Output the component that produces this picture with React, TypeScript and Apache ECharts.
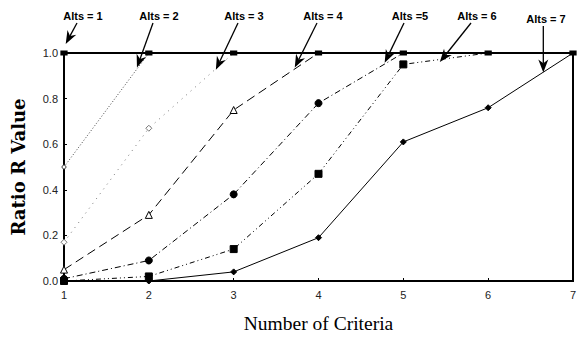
import React, { useEffect, useRef } from "react";
import * as echarts from "echarts";

const criteria = [1, 2, 3, 4, 5, 6, 7];
const yTicks = [0, 0.2, 0.4, 0.6, 0.8, 1.0];

const alts1: number[][] = [[1, 1.0]];
const alts2: number[][] = [[1, 0.5], [2, 1.0]];
const alts3: number[][] = [[1, 0.17], [2, 0.67], [3, 1.0]];
const alts4: number[][] = [[1, 0.05], [2, 0.29], [3, 0.75], [4, 1.0]];
const alts5: number[][] = [[1, 0.01], [2, 0.09], [3, 0.38], [4, 0.78], [5, 1.0]];
const alts6: number[][] = [[1, 0.0], [2, 0.02], [3, 0.14], [4, 0.47], [5, 0.95], [6, 1.0]];
const alts7: number[][] = [[1, 0.0], [2, 0.0], [3, 0.04], [4, 0.19], [5, 0.61], [6, 0.76], [7, 1.0]];

// annotation labels: text, label pixel center, arrow tip in data coords
const annLabels = ["Alts = 1", "Alts = 2", "Alts = 3", "Alts = 4", "Alts =5", "Alts = 6", "Alts = 7"];
const annLabelPos = [[83, 16], [159, 16], [244, 16], [323, 16], [410, 16], [477, 16], [546, 19]];
const annTips = [[1.02, 1.04], [1.86, 0.936], [2.79, 0.927], [3.72, 0.936], [4.78, 0.957], [5.43, 0.96], [6.65, 0.915]];

function arrowGraphics(chart: any) {
  const els: any[] = [];
  annLabels.forEach((t, i) => {
    const [lx, ly] = annLabelPos[i];
    els.push({
      type: "text",
      x: lx,
      y: ly,
      style: {
        text: t,
        font: "bold 11px 'Liberation Sans', Arial, sans-serif",
        fill: "#000",
        textAlign: "center",
        textVerticalAlign: "middle",
      },
      z: 10,
    });
    const tip = chart.convertToPixel({ gridIndex: 0 }, annTips[i]);
    const sx = i === 6 ? tip[0] : lx - 6;
    const sy = ly + 7;
    const dx = tip[0] - sx;
    const dy = tip[1] - sy;
    const len = Math.sqrt(dx * dx + dy * dy);
    const ux = dx / len;
    const uy = dy / len;
    const px = -uy;
    const py = ux;
    const hl = 13;
    const hw = 5;
    const bx = tip[0] - ux * hl;
    const by = tip[1] - uy * hl;
    const nx = tip[0] - ux * hl * 0.7;
    const ny = tip[1] - uy * hl * 0.7;
    els.push({
      type: "line",
      shape: { x1: sx, y1: sy, x2: nx, y2: ny },
      style: { stroke: "#000", lineWidth: 1.3 },
      z: 10,
    });
    els.push({
      type: "polygon",
      shape: {
        points: [
          [tip[0], tip[1]],
          [bx + px * hw, by + py * hw],
          [nx, ny],
          [bx - px * hw, by - py * hw],
        ],
      },
      style: { fill: "#000" },
      z: 10,
    });
  });
  return els;
}

export default function App() {
  const ref = useRef<HTMLDivElement>(null);
  useEffect(() => {
    if (!ref.current) return;
    const chart = echarts.init(ref.current, null, { renderer: "svg" });
    const tickFont = { fontFamily: "'Liberation Sans', Arial, sans-serif", fontSize: 11, color: "#222" };
    const mk = (name: string, data: number[][], lineType: any, color: string, symbol: string, size: number, fill: string) => ({
      name,
      type: "line",
      data: data.map((d) =>
        d[1] >= 1
          ? { value: d, symbol: "rect", symbolSize: [6, 4], itemStyle: { color: "#000", borderColor: "#000" } }
          : { value: d }
      ),
      symbol,
      symbolSize: size,
      showSymbol: true,
      lineStyle: { color, width: 1, type: lineType },
      itemStyle: { color: fill, borderColor: color, borderWidth: 1 },
      z: 3,
    });
    chart.setOption({
      animation: false,
      backgroundColor: "#fff",
      grid: { left: 64, right: 7, top: 53, bottom: 51, show: true, borderColor: "#000", borderWidth: 2 },
      xAxis: {
        type: "value",
        min: 1,
        max: 7,
        interval: 1,
        name: "Number of Criteria",
        nameLocation: "middle",
        nameGap: 32,
        nameTextStyle: { fontFamily: "'Liberation Serif', 'Times New Roman', serif", fontSize: 19.5, color: "#000" },
        axisLine: { lineStyle: { color: "#000", width: 2 } },
        axisTick: { inside: true, length: 3, lineStyle: { color: "#000" } },
        axisLabel: { ...tickFont, margin: 8, formatter: (v: number) => (criteria.includes(v) ? String(v) : "") },
        splitLine: { show: false },
      },
      yAxis: {
        type: "value",
        min: 0,
        max: 1,
        interval: 0.2,
        name: "Ratio R Value",
        nameLocation: "middle",
        nameGap: 37,
        nameTextStyle: { fontFamily: "'DejaVu Serif', serif", fontWeight: "bold", fontSize: 18, color: "#000" },
        axisLine: { lineStyle: { color: "#000", width: 2 } },
        axisTick: { inside: true, length: 3, lineStyle: { color: "#000" } },
        axisLabel: {
          ...tickFont,
          margin: 6,
          formatter: (v: number) => {
            const t = yTicks.find((y) => Math.abs(y - v) < 1e-6);
            return t === undefined ? "" : t.toFixed(1);
          },
        },
        splitLine: { show: false },
      },
      series: [
        mk("Alts = 1", alts1, "solid", "#000", "rect", 4, "#000"),
        mk("Alts = 2", alts2, [1, 2], "#444", "circle", 4, "#fff"),
        mk("Alts = 3", alts3, [1, 5], "#777", "diamond", 6, "#fff"),
        mk("Alts = 4", alts4, [9, 5], "#000", "triangle", 7, "#fff"),
        mk("Alts = 5", alts5, [6, 3, 1, 3], "#000", "circle", 7, "#000"),
        mk("Alts = 6", alts6, [5, 3, 1, 3, 1, 3], "#000", "rect", 7, "#000"),
        mk("Alts = 7", alts7, "solid", "#000", "diamond", 6, "#000"),
      ],
    });
    chart.setOption({ graphic: arrowGraphics(chart) });
    return () => chart.dispose();
  }, []);
  return <div ref={ref} style={{ position: "fixed", left: 0, top: 0, width: 580, height: 338 }} />;
}
